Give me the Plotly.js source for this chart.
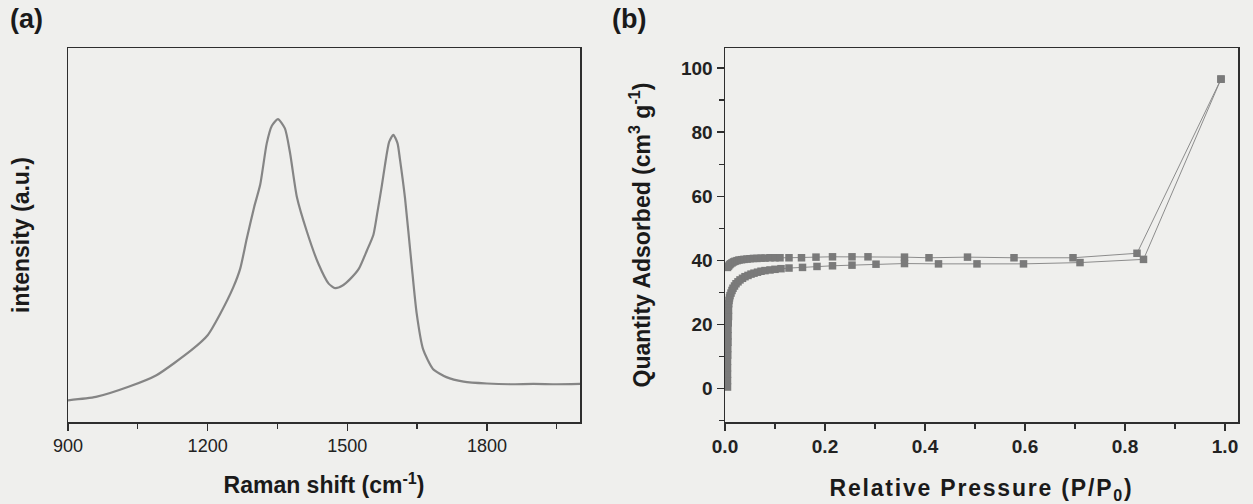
<!DOCTYPE html>
<html>
<head>
<meta charset="utf-8">
<script src="https://cdn.plot.ly/plotly-3.0.1.min.js"></script>
<style>
html,body{margin:0;padding:0;background:#efefed;}
#chart{width:1253px;height:504px;}
</style>
</head>
<body>
<div id="chart"></div>
<script>
// Panel (a): Raman spectrum
const ramanShift = [900, 960, 1030, 1090, 1165, 1200, 1226, 1255, 1270, 1284, 1300, 1313, 1327, 1338, 1351, 1366, 1377, 1392, 1413, 1438, 1460, 1474, 1490, 1506, 1525, 1542, 1556, 1564, 1574, 1581, 1590, 1599, 1608, 1613, 1624, 1638, 1649, 1663, 1684, 1713, 1750, 1800, 1850, 1900, 1950, 2000];
const ramanIntensity = [5.8, 6.7, 9.4, 12.5, 19.2, 23.2, 28.7, 36.0, 41.0, 49.0, 57.5, 63.5, 74.5, 79.2, 81.0, 78.5, 72.0, 60.0, 51.0, 42.3, 37.0, 35.8, 36.5, 38.2, 41.0, 45.8, 50.0, 55.5, 63.0, 68.7, 74.9, 76.8, 74.5, 70.4, 59.9, 42.3, 29.1, 19.4, 14.2, 12.0, 10.8, 10.3, 10.1, 10.2, 10.1, 10.2];
const ramanTicks = [900, 1200, 1500, 1800];

// Panel (b): N2 isotherm
const adsP = [0.005, 0.005, 0.005, 0.005, 0.005, 0.0055, 0.0055, 0.006, 0.006, 0.006, 0.0065, 0.007, 0.007, 0.0075, 0.008, 0.009, 0.010, 0.012, 0.014, 0.016, 0.019, 0.022, 0.026, 0.030, 0.035, 0.040, 0.046, 0.052, 0.058, 0.065, 0.072, 0.080, 0.090, 0.100, 0.112, 0.128, 0.155, 0.184, 0.215, 0.254, 0.302, 0.359, 0.427, 0.504, 0.597, 0.710, 0.837, 0.992];
const adsQ = [0.5, 2.5, 4.5, 6.5, 8.5, 10.5, 12.5, 14.5, 16.5, 18.5, 20.5, 22.5, 24.5, 26.5, 27.5, 28.3, 29.0, 29.8, 30.6, 31.3, 32.0, 32.7, 33.3, 33.9, 34.4, 34.9, 35.3, 35.7, 36.0, 36.3, 36.6, 36.8, 37.0, 37.2, 37.4, 37.6, 37.8, 38.1, 38.3, 38.5, 38.8, 39.0, 38.9, 38.9, 38.9, 39.3, 40.3, 96.5];
const desP = [0.005, 0.007, 0.009, 0.011, 0.014, 0.017, 0.020, 0.024, 0.028, 0.033, 0.038, 0.044, 0.050, 0.057, 0.064, 0.072, 0.080, 0.090, 0.100, 0.110, 0.128, 0.153, 0.182, 0.215, 0.254, 0.286, 0.359, 0.408, 0.485, 0.578, 0.696, 0.824, 0.992];
const desQ = [37.8, 38.2, 38.6, 38.9, 39.2, 39.5, 39.7, 39.9, 40.1, 40.2, 40.3, 40.4, 40.5, 40.6, 40.6, 40.7, 40.7, 40.8, 40.8, 40.8, 40.8, 40.8, 41.0, 41.1, 41.1, 41.1, 41.0, 40.8, 41.0, 40.8, 40.8, 42.2, 96.5];
const pTicks = [0, 0.2, 0.4, 0.6, 0.8, 1.0];
const pTickText = ['0.0', '0.2', '0.4', '0.6', '0.8', '1.0'];
const qTicks = [0, 20, 40, 60, 80, 100];

const W = 1253, H = 504;
const px = v => v / W;
const py = v => 1 - v / H;

const axisCol = '#2e2e2e';
const dataCol = '#858585';
const bg = '#efefed';

const traces = [
  {x: ramanShift, y: ramanIntensity, xaxis: 'x', yaxis: 'y', type: 'scatter', mode: 'lines',
   line: {color: dataCol, width: 2.2, shape: 'spline', smoothing: 0.6}, hoverinfo: 'skip'},
  {x: adsP, y: adsQ, xaxis: 'x2', yaxis: 'y2', type: 'scatter', mode: 'lines+markers',
   line: {color: '#8c8c8c', width: 1}, marker: {symbol: 'square', size: 7.5, color: '#7a7a7a'}},
  {x: desP, y: desQ, xaxis: 'x2', yaxis: 'y2', type: 'scatter', mode: 'lines+markers',
   line: {color: '#8c8c8c', width: 1}, marker: {symbol: 'square', size: 7.5, color: '#7a7a7a'}}
];

const tickFontA = {family: 'Liberation Sans, Arial, sans-serif', size: 18, color: '#222'};
const tickFontB = {family: 'Liberation Sans Narrow, Liberation Sans, Arial, sans-serif', size: 19, color: '#222', weight: 'bold'};
const titleFont = {family: 'Liberation Sans, Arial, sans-serif', size: 23, color: '#1a1a1a', weight: 'bold'};

const layout = {
  width: W, height: H,
  margin: {l: 0, r: 0, t: 0, b: 0},
  paper_bgcolor: bg, plot_bgcolor: bg,
  showlegend: false,
  xaxis: {
    domain: [px(68), px(580)], anchor: 'y', range: [900, 2000],
    tickmode: 'array', tickvals: ramanTicks, ticks: 'outside', ticklen: 7, tickwidth: 1.3, tickcolor: axisCol,
    minor: {dtick: 150, tick0: 900, ticks: 'outside', ticklen: 5, tickwidth: 1.2, tickcolor: axisCol},
    showline: true, linecolor: axisCol, linewidth: 1.5, mirror: true, showgrid: false, zeroline: false,
    tickfont: tickFontA,
    title: {text: 'Raman shift (cm<sup>-1</sup>)', font: titleFont, standoff: 22}
  },
  yaxis: {
    domain: [py(422), py(48)], anchor: 'x', range: [0, 100],
    showticklabels: false, ticks: '', showline: true, linecolor: axisCol, linewidth: 1.5, mirror: true,
    showgrid: false, zeroline: false,
    title: {text: 'intensity (a.u.)', font: titleFont, standoff: 30}
  },
  xaxis2: {
    domain: [px(725), px(1238)], anchor: 'y2', range: [0, 1.026],
    tickmode: 'array', tickvals: pTicks, ticktext: pTickText, ticks: 'outside', ticklen: 7, tickwidth: 1.3, tickcolor: axisCol,
    minor: {dtick: 0.1, tick0: 0, ticks: 'outside', ticklen: 5, tickwidth: 1.2, tickcolor: axisCol},
    showline: true, linecolor: axisCol, linewidth: 1.5, mirror: true, showgrid: false, zeroline: false,
    tickfont: tickFontB,
    title: {text: 'Relative Pressure (P/P<sub>0</sub>)', font: titleFont, standoff: 24}
  },
  yaxis2: {
    domain: [py(422), py(48)], anchor: 'x2', range: [-10.4, 106.2],
    tickmode: 'array', tickvals: qTicks, ticks: 'outside', ticklen: 7, tickwidth: 1.3, tickcolor: axisCol,
    minor: {dtick: 10, tick0: 0, ticks: 'outside', ticklen: 5, tickwidth: 1.2, tickcolor: axisCol},
    showline: true, linecolor: axisCol, linewidth: 1.5, mirror: true, showgrid: false, zeroline: false,
    tickfont: tickFontB,
    title: {text: 'Quantity Adsorbed (cm<sup>3</sup> g<sup>-1</sup>)', font: titleFont, standoff: 24}
  },
  annotations: [
    {text: '(a)', xref: 'paper', yref: 'paper', x: px(8), y: py(2), xanchor: 'left', yanchor: 'top', showarrow: false,
     font: {family: 'Liberation Sans, Arial, sans-serif', size: 27, color: '#1a1a1a', weight: 'bold'}},
    {text: '(b)', xref: 'paper', yref: 'paper', x: px(610), y: py(2), xanchor: 'left', yanchor: 'top', showarrow: false,
     font: {family: 'Liberation Sans, Arial, sans-serif', size: 27, color: '#1a1a1a', weight: 'bold'}}
  ]
};

Plotly.newPlot('chart', traces, layout, {displayModeBar: false, staticPlot: true}).then(gd => {
  const t = gd.querySelector('.g-x2title text');
  if (t) t.style.letterSpacing = '1.8px';
});
</script>
</body>
</html>
